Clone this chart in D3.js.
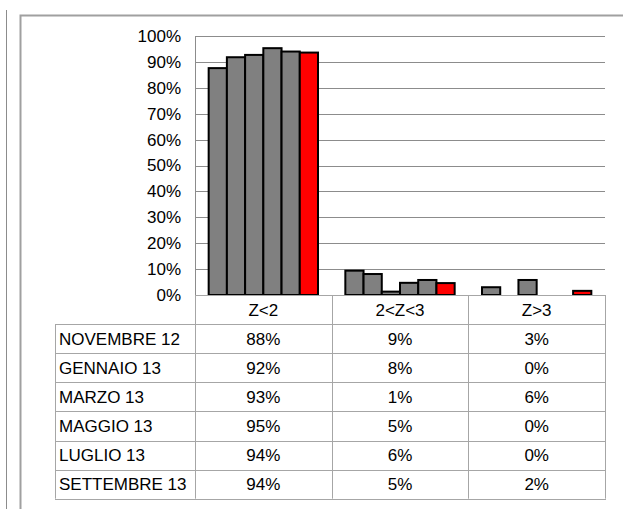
<!DOCTYPE html>
<html>
<head>
<meta charset="utf-8">
<script src="https://cdn.jsdelivr.net/npm/d3@7"></script>
<style>
  body { margin: 0; background: #fff; }
  svg text { font-family: "Liberation Sans", Arial, sans-serif; fill: #000; }
  .grid line { stroke: #8c8c8c; stroke-width: 1px; }
  .tbl line { stroke: #a6a6a6; stroke-width: 1px; }
  .bar { stroke: #000; stroke-width: 2px; }
</style>
</head>
<body>
<div id="chart"></div>
<script>
const categories = ['Z<2', '2<Z<3', 'Z>3']
const periods = ['NOVEMBRE 12', 'GENNAIO 13', 'MARZO 13', 'MAGGIO 13', 'LUGLIO 13', 'SETTEMBRE 13']
const zBelow2 = [0.876, 0.918, 0.927, 0.953, 0.94, 0.936]
const zBetween = [0.094, 0.081, 0.013, 0.047, 0.058, 0.046]
const zAbove3 = [0.03, 0, 0.058, 0, 0, 0.016]
const yTicks = [0, 0.1, 0.2, 0.3, 0.4, 0.5, 0.6, 0.7, 0.8, 0.9, 1]

const width = 623
const height = 509
const plot = { left: 195, right: 605, top: 36, bottom: 295 }
const tableLeft = 55
const rowH = 29.1
const fontSize = '17px'

// one value list per period, in category order
const rows = periods.map((p, i) => ({ period: p, values: [zBelow2[i], zBetween[i], zAbove3[i]] }))
const pct = d3.format('.0%')

const svg = d3.select('#chart').append('svg')
  .attr('width', width)
  .attr('height', height)

// outer frames
svg.append('line').attr('x1', 6.5).attr('x2', 6.5).attr('y1', 10).attr('y2', height)
  .attr('stroke', '#8c8c8c')
svg.append('path').attr('d', `M20.5,${height}V15.5H${width}`)
  .attr('fill', 'none').attr('stroke', '#a0a0a0').attr('stroke-width', 2)

const x = d3.scaleBand().domain(categories).range([plot.left, plot.right])
const xInner = d3.scaleBand().domain(periods)
  .range([x.bandwidth() * 0.1, x.bandwidth() * 0.9])
const y = d3.scaleLinear().domain([0, 1]).range([plot.bottom, plot.top])

// gridlines
svg.append('g').attr('class', 'grid')
  .selectAll('line').data(yTicks).join('line')
  .attr('x1', plot.left).attr('x2', plot.right)
  .attr('y1', d => Math.round(y(d)) + 0.5).attr('y2', d => Math.round(y(d)) + 0.5)

// y axis labels
const yAxis = svg.append('g')
  .attr('transform', `translate(${plot.left},0)`)
  .call(d3.axisLeft(y).tickValues(yTicks).tickFormat(pct).tickSize(0).tickPadding(14))
yAxis.select('.domain').remove()
yAxis.selectAll('text').style('font-size', fontSize).style('font-family', '"Liberation Sans", Arial, sans-serif')

svg.append('line').attr('x1', plot.left + 0.5).attr('x2', plot.left + 0.5)
  .attr('y1', plot.top).attr('y2', plot.bottom).attr('stroke', '#8c8c8c')

// bars, zero values are not drawn
const groups = svg.append('g').selectAll('g')
  .data(rows).join('g')

groups.selectAll('rect')
  .data((r, i) => r.values
    .map((v, c) => ({ v, c, period: r.period, last: i === rows.length - 1 }))
    .filter(d => d.v > 0))
  .join('rect')
  .attr('class', 'bar')
  .attr('x', d => x(categories[d.c]) + xInner(d.period))
  .attr('width', xInner.bandwidth())
  .attr('y', d => y(d.v))
  .attr('height', d => y(0) - y(d.v))
  .attr('fill', d => d.last ? '#ff0000' : '#808080')

// data table
const tbl = svg.append('g').attr('class', 'tbl')
const tableBottom = plot.bottom + rowH * (rows.length + 1)

// vertical lines
tbl.selectAll('line.v').data([plot.left, ...categories.map(c => x(c) + x.bandwidth())]).join('line')
  .attr('class', 'v')
  .attr('x1', d => Math.round(d) + 0.5).attr('x2', d => Math.round(d) + 0.5)
  .attr('y1', plot.bottom).attr('y2', tableBottom)
tbl.append('line')
  .attr('x1', tableLeft + 0.5).attr('x2', tableLeft + 0.5)
  .attr('y1', plot.bottom + rowH).attr('y2', tableBottom)

// horizontal lines
tbl.selectAll('line.h').data(d3.range(1, rows.length + 2)).join('line')
  .attr('class', 'h')
  .attr('x1', tableLeft).attr('x2', plot.right + 1)
  .attr('y1', d => Math.round(plot.bottom + d * rowH) + 0.5)
  .attr('y2', d => Math.round(plot.bottom + d * rowH) + 0.5)
tbl.append('line')
  .attr('x1', plot.left).attr('x2', plot.right + 1)
  .attr('y1', plot.bottom + 0.5).attr('y2', plot.bottom + 0.5)

// header texts
svg.append('g').selectAll('text').data(categories).join('text')
  .attr('x', d => x(d) + x.bandwidth() / 2)
  .attr('y', plot.bottom + rowH / 2)
  .attr('dy', '0.35em')
  .attr('text-anchor', 'middle')
  .style('font-size', fontSize)
  .text(d => d)

// rows
const rowG = svg.append('g').selectAll('g').data(rows).join('g')
  .attr('transform', (d, i) => `translate(0,${plot.bottom + rowH * (i + 1.5)})`)

rowG.append('text')
  .attr('x', tableLeft + 4)
  .attr('dy', '0.35em')
  .style('font-size', fontSize)
  .text(d => d.period)

rowG.selectAll('text.val').data(d => d.values).join('text')
  .attr('class', 'val')
  .attr('x', (d, c) => x(categories[c]) + x.bandwidth() / 2)
  .attr('dy', '0.35em')
  .attr('text-anchor', 'middle')
  .style('font-size', fontSize)
  .text(d => pct(d))
</script>
</body>
</html>
